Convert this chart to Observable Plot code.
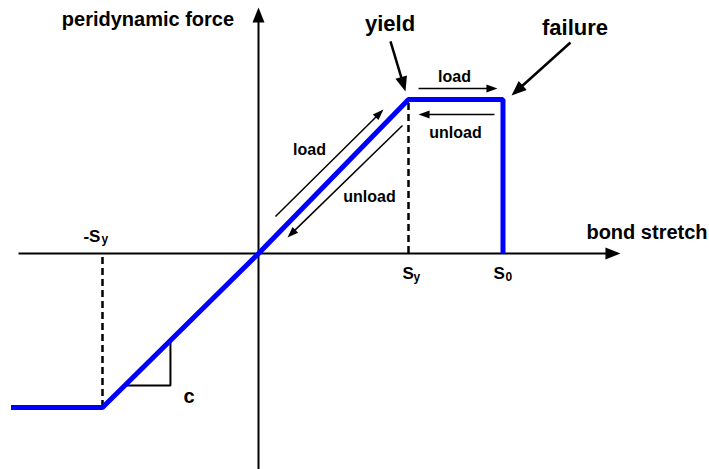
<!DOCTYPE html>
<html>
<head>
<meta charset="utf-8">
<script src="https://cdn.jsdelivr.net/npm/d3@7"></script>
<script src="https://cdn.jsdelivr.net/npm/@observablehq/plot@0.6"></script>
<style>
  html, body { margin: 0; padding: 0; background: #fff; }
  #chart svg { display: block; }
</style>
</head>
<body>
<div id="chart"></div>
<script>
// Bilinear peridynamic bond model: stretch in units of the yield stretch s_y,
// force in units of the yield force.
const curveStretch = [-1.65, -1.04, 0, 1, 1.63, 1.63];
const curveForce   = [-1,    -1,    0, 1, 1,    0];

// Axis extents (start of line -> arrow tip)
const xAxisLine = [-1.6, 0, 2.413, 0];
const yAxisLine = [0, -1.4026, 0, 1.597];

// Dashed guides at +s_y and -s_y
const guideX  = [1, -1.04];
const guideY1 = [0, -1];
const guideY2 = [1, 0];

// Slope triangle (stiffness c) under the lower branch
const slopeTriX = [-0.891, -0.587, -0.587];
const slopeTriY = [-0.857, -0.857, -0.564];

// Small load/unload arrows: [x1, y1, x2 (tip), y2 (tip)]
const pathArrows = [
  [0.113, 0.240, 0.833, 0.935],
  [0.960, 0.831, 0.193, 0.104],
  [1.067, 1.071, 1.593, 1.071],
  [1.573, 0.903, 1.067, 0.903]
];
// Pointer arrows for "yield" and "failure"
const pointerArrows = [
  [0.88, 1.377, 0.98, 1.052],
  [2.08, 1.370, 1.687, 1.026]
];

// Labels
const bigLabels   = ["yield", "failure"];
const bigLabelX   = [0.877, 2.11];
const bigLabelY   = [1.489, 1.466];
const axisLabels  = ["peridynamic force", "bond stretch", "c"];
const axisLabelX  = [-0.737, 2.59, -0.463];
const axisLabelY  = [1.522, 0.139, -0.926];
const pathLabels  = ["load", "unload", "load", "unload"];
const pathLabelX  = [1.307, 1.313, 0.34, 0.74];
const pathLabelY  = [1.15, 0.786, 0.675, 0.37];
const tickMain    = ["-S", "S", "S"];
const tickMainX   = [-1.167, 0.96, 1.567];
const tickMainY   = [0.113, -0.127, -0.127];
const tickSub     = ["y", "y", "0"];
const tickSubX    = [-1.047, 1.033, 1.647];
const tickSubY    = [0.09, -0.151, -0.151];

const W = 709, H = 469;
const X_DOMAIN = [-1.72, 3.0067];
const Y_DOMAIN = [-1.4026, 1.6429];
const xs = d3.scaleLinear(X_DOMAIN, [0, W]);
const ys = d3.scaleLinear(Y_DOMAIN, [H, 0]);

const FONT = "'Liberation Sans', Arial, Helvetica, sans-serif";
const BLUE = "#0000ff";

// Filled arrowhead pointing up with its tip at the origin
function head(len, wid) {
  return {
    draw(ctx) {
      ctx.moveTo(0, 0);
      ctx.lineTo(wid / 2, len);
      ctx.lineTo(-wid / 2, len);
      ctx.closePath();
    }
  };
}

function arrowMarks(list, {stroke = "black", width = 1.5, headLen = 10, headWid = 7} = {}) {
  const rows = list.map(([x1, y1, x2, y2]) => {
    const px1 = xs(x1), py1 = ys(y1), px2 = xs(x2), py2 = ys(y2);
    const dx = px2 - px1, dy = py2 - py1, d = Math.hypot(dx, dy);
    const k = (d - headLen * 0.6) / d;
    return {
      x1, y1, x2, y2,
      ex: xs.invert(px1 + dx * k),
      ey: ys.invert(py1 + dy * k),
      angle: Math.atan2(dx, -dy) * 180 / Math.PI
    };
  });
  return [
    Plot.link(rows, {x1: "x1", y1: "y1", x2: "ex", y2: "ey", stroke, strokeWidth: width}),
    Plot.dot(rows, {x: "x2", y: "y2", rotate: "angle", r: 1,
      symbol: head(headLen, headWid), fill: stroke, stroke: "none"})
  ];
}

const curve = curveStretch.map((s, i) => ({s, f: curveForce[i]}));
const axes = [
  {x1: xAxisLine[0], y1: xAxisLine[1], x2: xAxisLine[2], y2: xAxisLine[3]},
  {x1: yAxisLine[0], y1: yAxisLine[1], x2: yAxisLine[2], y2: yAxisLine[3]}
];
const guides = guideX.map((x, i) => ({x, y1: guideY1[i], y2: guideY2[i]}));
const tri = slopeTriX.map((x, i) => ({x, y: slopeTriY[i]}));
const rows = (t, x, y) => t.map((text, i) => ({text, x: x[i], y: y[i]}));

const txt = (data, size, opts = {}) => Plot.text(data, {
  x: "x", y: "y", text: "text", fontSize: size, fontWeight: "bold",
  fontFamily: FONT, fill: "black", lineAnchor: "middle", ...opts
});

const chart = Plot.plot({
  width: W,
  height: H,
  margin: 0,
  x: {domain: X_DOMAIN, axis: null},
  y: {domain: Y_DOMAIN, axis: null},
  style: {background: "#fff"},
  marks: [
    // axes with filled arrowheads
    ...arrowMarks(axes.map(a => [a.x1, a.y1, a.x2, a.y2]),
      {width: 2, headLen: 15, headWid: 12}),
    // dashed guides
    Plot.ruleX(guides, {x: "x", y1: "y1", y2: "y2", stroke: "black",
      strokeWidth: 2.5, strokeDasharray: "7,4"}),
    // slope triangle
    Plot.line(tri, {x: "x", y: "y", stroke: "black", strokeWidth: 2,
      strokeLinejoin: "miter", strokeLinecap: "butt"}),
    // force–stretch curve
    Plot.line(curve, {x: "s", y: "f", stroke: BLUE, strokeWidth: 5,
      strokeLinejoin: "miter", strokeLinecap: "butt"}),
    // load / unload arrows
    ...arrowMarks(pathArrows, {width: 1.5, headLen: 11, headWid: 8}),
    ...arrowMarks(pointerArrows, {width: 2.5, headLen: 15, headWid: 12}),
    // labels
    txt(rows(bigLabels, bigLabelX, bigLabelY), 22),
    txt(rows(axisLabels, axisLabelX, axisLabelY), 20),
    txt(rows(pathLabels, pathLabelX, pathLabelY), 16),
    txt(rows(tickMain, tickMainX, tickMainY), 17, {textAnchor: "start"}),
    txt(rows(tickSub, tickSubX, tickSubY), 12, {textAnchor: "start"})
  ]
});

document.getElementById("chart").append(chart);
</script>
</body>
</html>
